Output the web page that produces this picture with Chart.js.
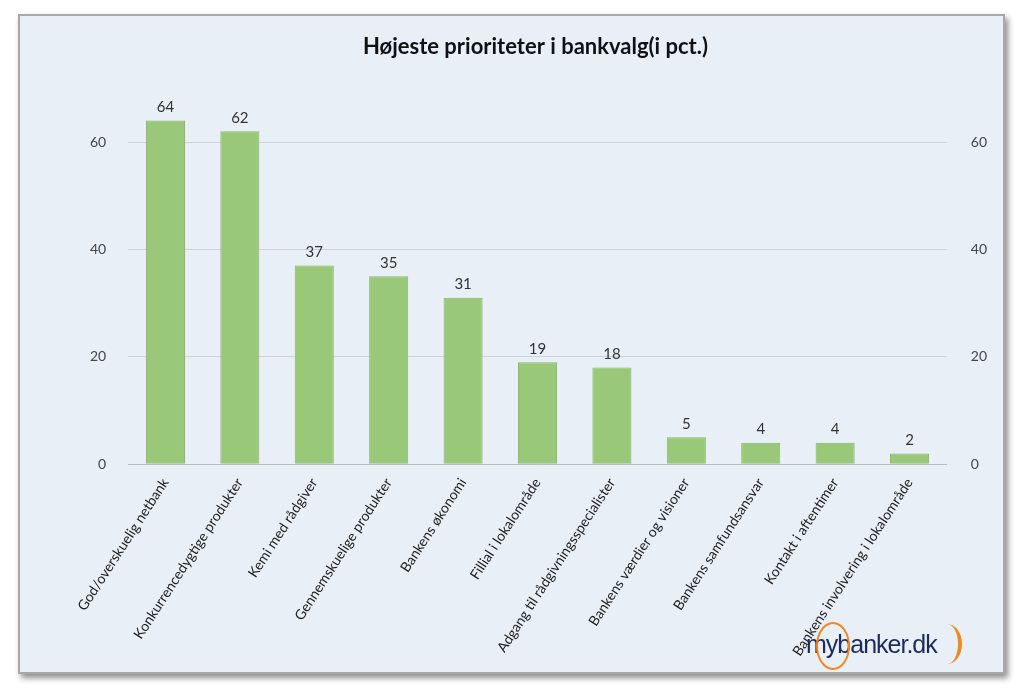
<!DOCTYPE html>
<html>
<head>
<meta charset="utf-8">
<script src="https://cdn.jsdelivr.net/npm/chart.js@4"></script>
<style>
  body { margin: 0; background: #fff; width: 1024px; height: 691px; overflow: hidden; font-family: Lato, sans-serif; }
  #card { position: absolute; left: 18px; top: 14px; width: 983px; height: 656px; background: #e9eff7;
          border: 2px solid #a8a8a8; box-shadow: 3px 4px 6px rgba(0,0,0,0.45); }
  #wrap { position: absolute; left: 0; top: 0; width: 983px; height: 656px; }
  #logo { position: absolute; left: 806px; top: 630px; font: 25px "Liberation Sans", sans-serif; color: #1d2a5c; letter-spacing: -1px; }
  #logo .ring { position: absolute; left: 10px; top: -8px; width: 30px; height: 44px; border: 2px solid #f08a1c; border-radius: 50%; }
  #logo .arc { position: absolute; left: 126px; top: -6px; width: 26px; height: 40px; border-right: 4px solid #f08a1c; border-radius: 50%; }
</style>
</head>
<body>
<div id="card"><div id="wrap"><canvas id="chart"></canvas></div></div>
<div id="logo"><span class="ring"></span>mybanker.dk<span class="arc"></span></div>
<script>
const categories = ['God/overskuelig netbank', 'Konkurrencedygtige produkter', 'Kemi med rådgiver',
  'Gennemskuelige produkter', 'Bankens økonomi', 'Fillial i lokalområde', 'Adgang til rådgivningsspecialister',
  'Bankens værdier og visioner', 'Bankens samfundsansvar', 'Kontakt i aftentimer', 'Bankens involvering i lokalområde'];
const values = [64, 62, 37, 35, 31, 19, 18, 5, 4, 4, 2];
const yTicks = [0, 20, 40, 60];

const valueLabels = {
  id: 'valueLabels',
  afterDatasetsDraw(chart) {
    const ctx = chart.ctx;
    ctx.save();
    ctx.font = '15px Lato, sans-serif';
    ctx.fillStyle = '#333';
    ctx.textAlign = 'center';
    ctx.textBaseline = 'bottom';
    chart.getDatasetMeta(0).data.forEach((bar, i) => {
      ctx.fillText(values[i], bar.x, bar.y - 6);
    });
    ctx.restore();
  },
};

const onlyTicks = (scale) => { scale.ticks = yTicks.map((v) => ({ value: v })); };

new Chart(document.getElementById('chart'), {
  type: 'bar',
  data: {
    labels: categories,
    datasets: [{ data: values, backgroundColor: '#98c878', borderColor: '#86b866', borderWidth: 1, categoryPercentage: 0.75, barPercentage: 0.7 }],
  },
  options: {
    responsive: true,
    maintainAspectRatio: false,
    animation: false,
    layout: { padding: { left: 48, right: 0, top: 10, bottom: 10 } },
    plugins: {
      legend: { display: false },
      tooltip: { enabled: false },
      title: { display: true, text: 'Højeste prioriteter i bankvalg(i pct.)', color: '#111',
        font: { family: 'Lato', size: 22, weight: 'bold' }, padding: { top: 8, bottom: 28 } },
    },
    scales: {
      x: {
        grid: { display: false },
        border: { color: '#bbb' },
        ticks: { color: '#222', font: { family: 'Lato', size: 14 }, maxRotation: 57, minRotation: 57, autoSkip: false },
      },
      y: {
        min: 0, max: 70,
        afterBuildTicks: onlyTicks,
        grid: { color: '#cfd3d8', drawTicks: false },
        border: { display: false },
        ticks: { color: '#444', font: { family: 'Lato', size: 14 }, padding: 22 },
      },
      y2: {
        position: 'right',
        min: 0, max: 70,
        afterBuildTicks: onlyTicks,
        grid: { display: false },
        border: { display: false },
        ticks: { color: '#444', font: { family: 'Lato', size: 14 }, padding: 16 },
      },
    },
  },
  plugins: [valueLabels],
});
</script>
</body>
</html>
